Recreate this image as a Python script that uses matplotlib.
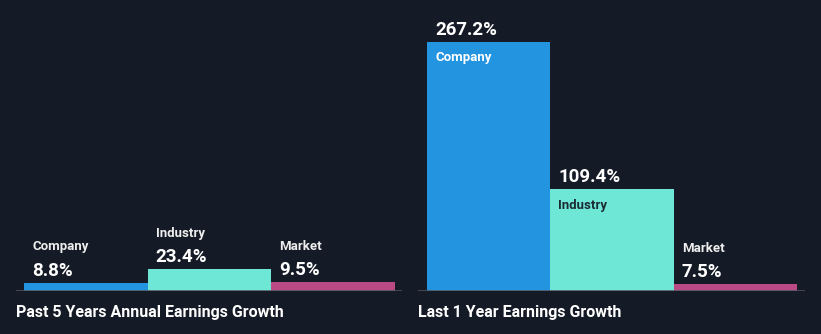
import numpy as np
import matplotlib.pyplot as plt

plt.rcParams['font.family'] = ['Roboto', 'DejaVu Sans']

categories = ['Company', 'Industry', 'Market']
past_5y = [8.8, 23.4, 9.5]
last_1y = [267.2, 109.4, 7.5]
titles = ['Past 5 Years Annual Earnings Growth', 'Last 1 Year Earnings Growth']

bg = '#151b26'
colors = ['#2394df', '#6ee7d6', '#b94a85']
inside_colors = ['#ffffff', '#1c2b33', '#ffffff']

W, H = 821, 334
fig = plt.figure(figsize=(W / 100, H / 100), dpi=100, facecolor=bg)

base_y = 291
px_per_unit = 249 / 267.2
ymax = base_y / px_per_unit


def draw_group(left_px, right_px, bar_left_px, bar_right_px, values, title, title_x):
    ax = fig.add_axes([left_px / W, (H - base_y) / H, (right_px - left_px) / W, base_y / H])
    ax.set_facecolor(bg)
    unit = (bar_right_px - bar_left_px) / 3
    ax.set_xlim(-0.5 - (bar_left_px - left_px) / unit, 2.5 + (right_px - bar_right_px) / unit)
    ax.set_ylim(0, ymax)
    ax.axis('off')

    x = np.arange(len(values))
    ax.bar(x, values, width=1.0, color=colors, linewidth=0)
    ax.axhline(0, color='#4a4f59', lw=1.2, zorder=3)
    ax.plot([-0.5, 2.5], [0, 0], color='white', lw=0.8, zorder=4, solid_capstyle='butt')

    for i, (name, v) in enumerate(zip(categories, values)):
        height_px = v * px_per_unit
        ax.annotate(f'{v}%', xy=(i - 0.5, v), xytext=(8, 12), textcoords='offset pixels',
                    ha='left', va='center', color='white', fontsize=13.5, fontweight='bold')
        if height_px > 40:
            ax.annotate(name, xy=(i - 0.5, v), xytext=(8, -16), textcoords='offset pixels',
                        ha='left', va='center', color=inside_colors[i], fontsize=9.5,
                        fontweight='bold')
        else:
            ax.annotate(name, xy=(i - 0.5, v), xytext=(8, 36), textcoords='offset pixels',
                        ha='left', va='center', color='#eeeeee', fontsize=9.5,
                        fontweight='bold')

    fig.text(title_x / W, (H - 313) / H, title, ha='left', va='center', color='white',
             fontsize=11.5, fontweight='bold')


draw_group(16, 402, 24, 395, past_5y, titles[0], 16)
draw_group(418, 805, 427, 797, last_1y, titles[1], 418)

fig.savefig('out.png', dpi=100, facecolor=bg)
